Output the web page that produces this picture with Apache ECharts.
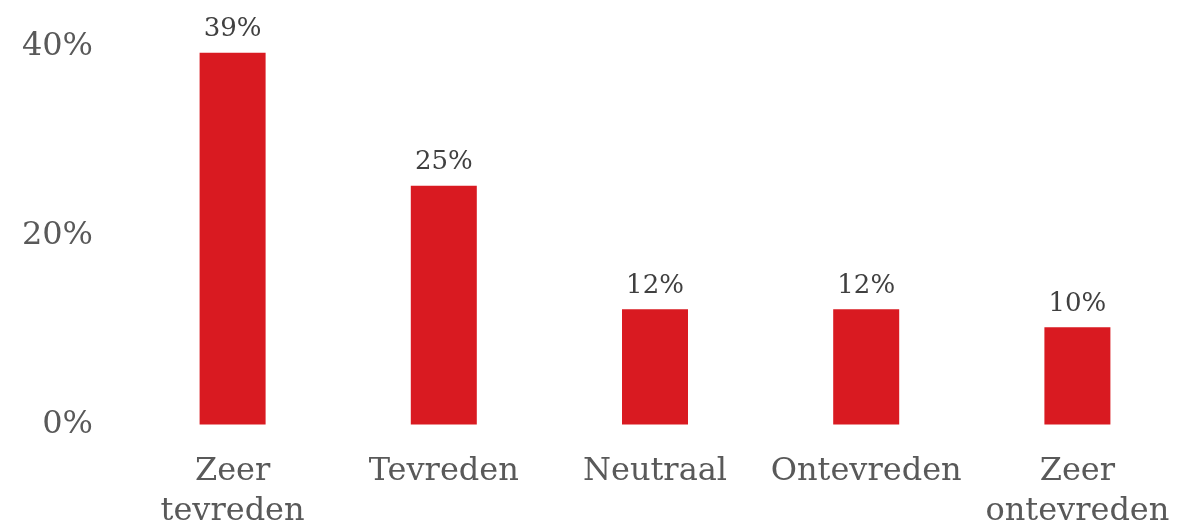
<!DOCTYPE html>
<html>
<head>
<meta charset="utf-8">
<script src="https://cdn.jsdelivr.net/npm/echarts@6/dist/echarts.min.js"></script>
<style>
  html, body { margin: 0; padding: 0; background: #fff; }
  #main { width: 1197px; height: 528px; }
</style>
</head>
<body>
<div id="main"></div>
<script>
// tevredenheid, percentages
var categories = ['Zeer\ntevreden', 'Tevreden', 'Neutraal', 'Ontevreden', 'Zeer\nontevreden'];
var values = [39.4, 25.3, 12.2, 12.2, 10.3];
var yTicks = [0, 20, 40];

var chart = echarts.init(document.getElementById('main'));
var serif = 'Georgia, "DejaVu Serif", serif';

chart.setOption({
  animation: false,
  grid: { left: 127, right: 14, top: 47, bottom: 103.5, containLabel: false, outerBoundsMode: 'none' },
  xAxis: {
    type: 'category',
    data: categories,
    axisLine: { show: false },
    axisTick: { show: false },
    axisLabel: {
      color: '#595959',
      fontFamily: serif,
      fontSize: 32,
      lineHeight: 40,
      margin: 27,
      interval: 0
    }
  },
  yAxis: {
    type: 'value',
    min: yTicks[0],
    max: yTicks[yTicks.length - 1],
    interval: yTicks[1] - yTicks[0],
    splitLine: { show: false },
    axisLine: { show: false },
    axisTick: { show: false },
    axisLabel: {
      color: '#595959',
      fontFamily: serif,
      fontSize: 32,
      lineHeight: 36,
      margin: 34,
      padding: [4, 0, 0, 0],
      formatter: function (v) { return v + '%'; }
    }
  },
  series: [{
    type: 'bar',
    data: values,
    barWidth: 66,
    itemStyle: { color: '#D91A21' },
    label: {
      show: true,
      position: 'top',
      distance: 10,
      color: '#404040',
      fontFamily: serif,
      fontSize: 26,
      formatter: function (p) { return Math.round(p.value) + '%'; }
    }
  }]
});
</script>
</body>
</html>
